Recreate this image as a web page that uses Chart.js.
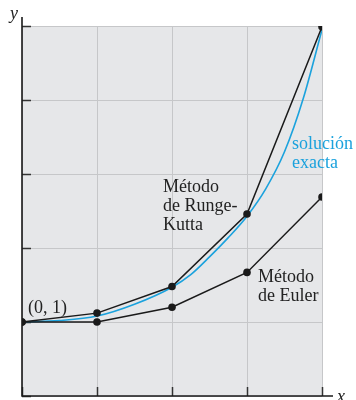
<!DOCTYPE html>
<html>
<head>
<meta charset="utf-8">
<script src="https://cdn.jsdelivr.net/npm/chart.js@4/dist/chart.umd.min.js"></script>
<style>
  html, body { margin: 0; padding: 0; background: #fff; }
  #wrap { width: 356px; height: 400px; }
</style>
</head>
<body>
<div id="wrap"><canvas id="chart"></canvas></div>
<script>
// values
const xs = [0, 1, 2, 3, 4];
const rungeKutta = [1.00, 1.12, 1.48, 2.46, 4.99];
const euler = [1.00, 1.00, 1.20, 1.67, 2.69];
const exactX = [0, 0.5, 1, 1.5, 2, 2.25, 2.5, 2.75, 3, 3.25, 3.5, 3.75, 4];
const exactY = [1.00, 1.02, 1.08, 1.24, 1.47, 1.64, 1.88, 2.14, 2.43, 2.80, 3.30, 4.02, 4.95];
const xTicks = [0, 1, 2, 3, 4];
const yTicks = [0, 1, 2, 3, 4, 5];

const blue = '#1ba2dd';
const serif = '"Liberation Serif", "DejaVu Serif", serif';

const labels = [
  { lines: ['(0, 1)'], x: 28, y: 313, color: '#222' },
  { lines: ['Método', 'de Runge-', 'Kutta'], x: 163, y: 192, color: '#222' },
  { lines: ['solución', 'exacta'], x: 292, y: 149, color: blue },
  { lines: ['Método', 'de Euler'], x: 258, y: 282, color: '#222' }
];

function pts(xv, yv) {
  return xv.map((x, i) => ({ x: x, y: yv[i] }));
}

const frame = {
  id: 'frame',
  beforeDatasetsDraw(chart) {
    const { ctx, chartArea: a, scales } = chart;
    ctx.save();
    ctx.fillStyle = '#e6e7e9';
    ctx.fillRect(a.left, a.top, a.right - a.left, a.bottom - a.top);
    ctx.strokeStyle = '#c6c7c9';
    ctx.lineWidth = 1;
    xTicks.forEach(v => {
      const px = Math.round(scales.x.getPixelForValue(v)) + 0.5;
      ctx.beginPath(); ctx.moveTo(px, a.top); ctx.lineTo(px, a.bottom); ctx.stroke();
    });
    yTicks.forEach(v => {
      const py = Math.round(scales.y.getPixelForValue(v)) + 0.5;
      ctx.beginPath(); ctx.moveTo(a.left, py); ctx.lineTo(a.right, py); ctx.stroke();
    });
    // tick marks
    ctx.strokeStyle = '#333';
    ctx.lineWidth = 1.5;
    xTicks.forEach(v => {
      const px = Math.round(scales.x.getPixelForValue(v)) + 0.5;
      ctx.beginPath(); ctx.moveTo(px, a.bottom); ctx.lineTo(px, a.bottom - 9); ctx.stroke();
    });
    yTicks.forEach(v => {
      const py = Math.round(scales.y.getPixelForValue(v)) + 0.5;
      ctx.beginPath(); ctx.moveTo(a.left, py); ctx.lineTo(a.left + 9, py); ctx.stroke();
    });
    // axes
    ctx.strokeStyle = '#1a1a1a';
    ctx.lineWidth = 1.6;
    ctx.beginPath();
    ctx.moveTo(a.left, a.top - 9);
    ctx.lineTo(a.left, a.bottom);
    ctx.lineTo(a.right + 11, a.bottom);
    ctx.stroke();
    ctx.fillStyle = '#222';
    ctx.font = 'italic 18px ' + serif;
    ctx.textAlign = 'right';
    ctx.fillText('y', a.left - 4, a.top - 7);
    ctx.textAlign = 'left';
    ctx.fillText('x', a.right + 15, a.bottom + 6);
    ctx.restore();
  },
  afterDatasetsDraw(chart) {
    const ctx = chart.ctx;
    ctx.save();
    ctx.font = '18px ' + serif;
    ctx.textAlign = 'left';
    ctx.textBaseline = 'alphabetic';
    labels.forEach(l => {
      ctx.fillStyle = l.color;
      l.lines.forEach((t, i) => ctx.fillText(t, l.x, l.y + i * 19));
    });
    ctx.restore();
  }
};

new Chart(document.getElementById('chart'), {
  type: 'scatter',
  data: {
    datasets: [
      {
        label: 'solución exacta',
        data: pts(exactX, exactY),
        showLine: true,
        borderColor: blue,
        borderWidth: 1.6,
        pointRadius: 0,
        cubicInterpolationMode: 'monotone',
        order: 3
      },
      {
        label: 'Método de Euler',
        data: pts(xs, euler),
        showLine: true,
        borderColor: '#1a1a1a',
        borderWidth: 1.5,
        pointRadius: 3.8,
        pointBackgroundColor: '#1a1a1a',
        pointBorderWidth: 0,
        order: 2
      },
      {
        label: 'Método de Runge-Kutta',
        data: pts(xs, rungeKutta),
        showLine: true,
        borderColor: '#1a1a1a',
        borderWidth: 1.5,
        pointRadius: 3.8,
        pointBackgroundColor: '#1a1a1a',
        pointBorderWidth: 0,
        order: 1
      }
    ]
  },
  options: {
    responsive: true,
    maintainAspectRatio: false,
    animation: false,
    layout: { padding: { left: 22, top: 26, right: 34, bottom: 2 } },
    plugins: { legend: { display: false }, tooltip: { enabled: false } },
    scales: {
      x: { type: 'linear', min: 0, max: 4, display: false },
      y: { type: 'linear', min: 0, max: 5, display: false }
    }
  },
  plugins: [frame]
});
</script>
</body>
</html>
